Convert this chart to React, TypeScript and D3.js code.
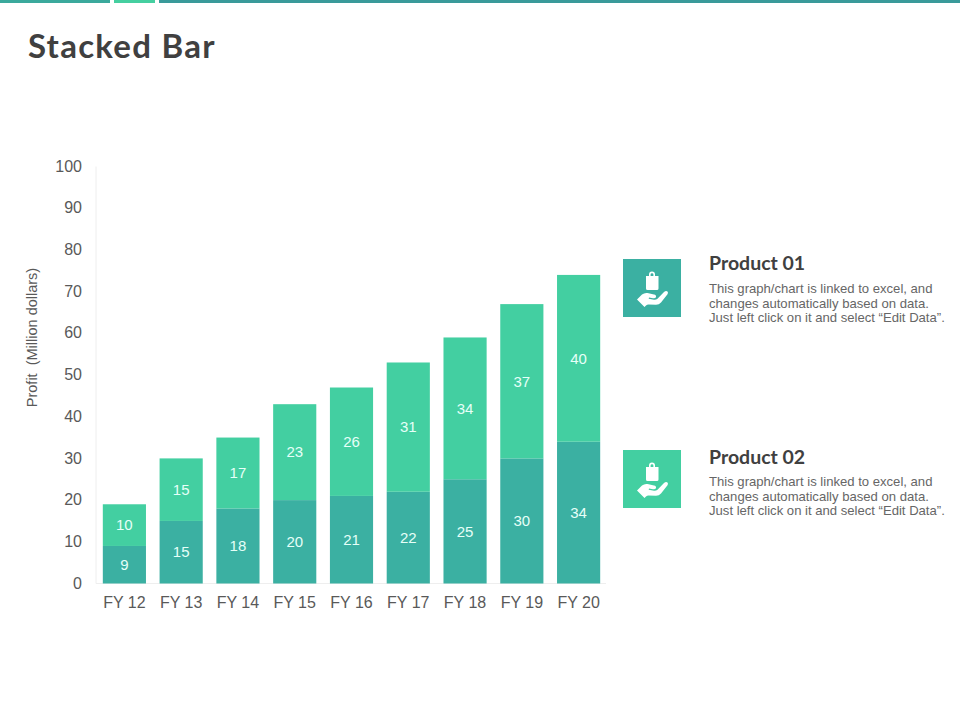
import { scaleBand, scaleLinear } from 'd3'

const YEARS = ['FY 12', 'FY 13', 'FY 14', 'FY 15', 'FY 16', 'FY 17', 'FY 18', 'FY 19', 'FY 20']
const PRODUCT_02 = [9, 15, 18, 20, 21, 22, 25, 30, 34]
const PRODUCT_01 = [10, 15, 17, 23, 26, 31, 34, 37, 40]
const Y_TICKS = [0, 10, 20, 30, 40, 50, 60, 70, 80, 90, 100]
const BLURB = [
  'This graph/chart is linked to excel, and',
  'changes automatically based on data.',
  'Just left click on it and select “Edit Data”.',
]

const DARK = '#3BB0A2'
const LIGHT = '#43CFA1'
const SANS = '"Liberation Sans", Arial, sans-serif'
const HEADING = 'Lato, "Open Sans", sans-serif'

const x = scaleBand().domain(YEARS).range([96, 607]).paddingInner(0.24).paddingOuter(0.12)
const y = scaleLinear().domain([0, 100]).range([583.5, 166.5])

function HandIcon({ fill }: { fill: string }) {
  return (
    <g>
      <rect width={58} height={58} fill={fill} />
      {/* bag */}
      <path d="M23 17 H26 V15.5 Q26 12.5 29 12.5 Q32 12.5 32 15.5 V17 H35.5 V29.5 Q35.5 31 34 31 H24.5 Q23 31 23 29.5 Z M27.6 17 H30.4 V15.6 Q30.4 14.2 29 14.2 Q27.6 14.2 27.6 15.6 Z" fill="#fff" fillRule="evenodd" />
      {/* hand */}
      <path d="M14 40.5 L19 35.5 Q21.5 33.5 24.5 34 L31 35.5 Q33.5 36 33 38 Q32.5 39.5 30 39.2 L26 38.6 L25.7 39.8 L31 40.8 Q33 41 34.5 39.8 L41 33 Q43 31.5 44.5 32.5 Q45.5 33.5 44.5 35.2 L38 43.5 Q36 45.8 33 45.8 L25.5 45.5 Q24 45.5 23 46.5 L21.5 48 Z" fill="#fff" />
    </g>
  )
}

function Callout({ top, title, fill, titleY, textY }: { top: number; title: string; fill: string; titleY: number; textY: number }) {
  return (
    <g>
      <g transform={`translate(623, ${top})`}>
        <HandIcon fill={fill} />
      </g>
      <text x={709} y={titleY} fontFamily={HEADING} fontWeight={700} fontSize={19.5} fill="#404040">
        {title}
      </text>
      {BLURB.map((line, i) => (
        <text key={line} x={709} y={textY + i * 14.5} fontFamily={SANS} fontSize={13.1} fill="#666">
          {line}
        </text>
      ))}
    </g>
  )
}

export default function App() {
  const bw = x.bandwidth()
  return (
    <svg
      width={960}
      height={720}
      viewBox="0 0 960 720"
      style={{ position: 'absolute', left: 0, top: 0, background: '#fff' }}
    >
      <rect x={0} y={0} width={110} height={3} fill="#3BA99C" />
      <rect x={114} y={0} width={41} height={3} fill="#45CFA0" />
      <rect x={159} y={0} width={801} height={3} fill="#3A9A9A" />

      <text x={28} y={58} fontFamily={HEADING} fontWeight={700} fontSize={33} letterSpacing={1.25} fill="#404040">
        Stacked Bar
      </text>

      <text
        transform="translate(37, 337.5) rotate(-90)"
        textAnchor="middle"
        fontFamily={SANS}
        fontSize={14.5}
        fill="#595959"
        xmlSpace="preserve"
      >
        Profit  (Million dollars)
      </text>

      <line x1={96} x2={96} y1={y(100)} y2={y(0)} stroke="#EEEEEE" />
      <line x1={96} x2={606} y1={y(0)} y2={y(0)} stroke="#EEEEEE" />

      {Y_TICKS.map((t) => (
        <text key={t} x={82} y={y(t) - 0.5} dy="0.35em" textAnchor="end" fontFamily={SANS} fontSize={16} fill="#595959">
          {t}
        </text>
      ))}

      {YEARS.map((year, i) => {
        const left = x(year) ?? 0
        const cx = left + bw / 2
        const low = PRODUCT_02[i]
        const high = low + PRODUCT_01[i]
        return (
          <g key={year}>
            <rect x={left} y={y(low)} width={bw} height={y(0) - y(low)} fill={DARK} />
            <rect x={left} y={y(high)} width={bw} height={y(low) - y(high)} fill={LIGHT} />
            <text x={cx} y={y(low / 2)} dy="0.35em" textAnchor="middle" fontFamily={SANS} fontSize={15} fill="#E6FFF8">
              {low}
            </text>
            <text x={cx} y={y(low + PRODUCT_01[i] / 2)} dy="0.35em" textAnchor="middle" fontFamily={SANS} fontSize={15} fill="#E6FFF8">
              {PRODUCT_01[i]}
            </text>
            <text x={cx} y={607.5} textAnchor="middle" fontFamily={SANS} fontSize={16} fill="#595959">
              {year}
            </text>
          </g>
        )
      })}

      <Callout top={259} title="Product 01" fill={DARK} titleY={270} textY={293} />
      <Callout top={450} title="Product 02" fill={LIGHT} titleY={464} textY={486} />
    </svg>
  )
}
